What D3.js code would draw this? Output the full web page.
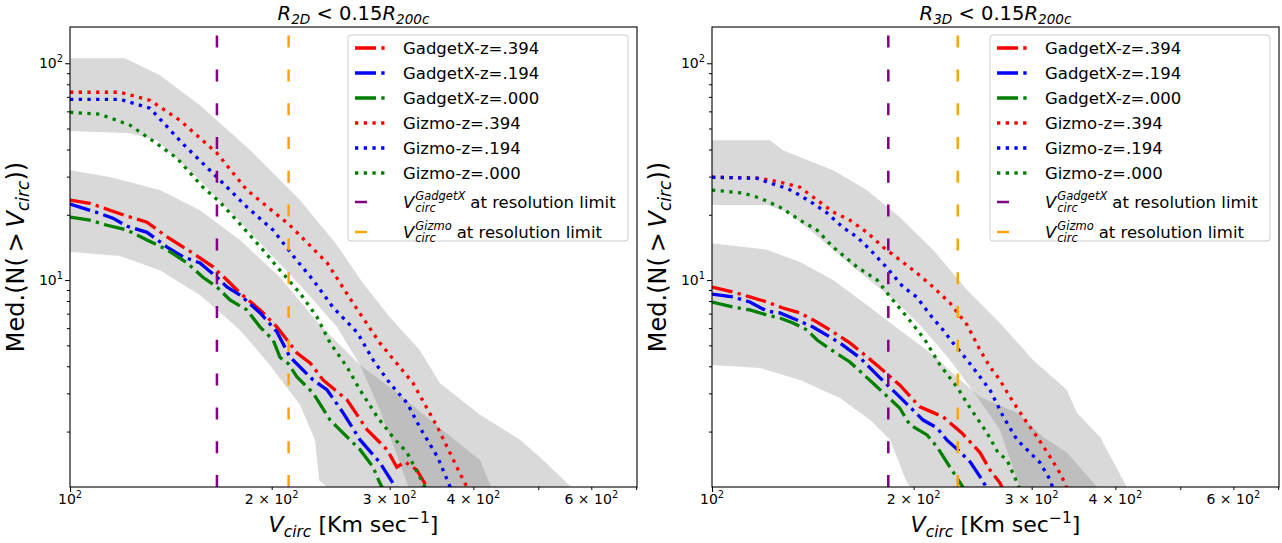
<!DOCTYPE html>
<html>
<head>
<meta charset="utf-8">
<script src="https://cdn.jsdelivr.net/npm/d3@7"></script>
<style>
  body { margin: 0; background: #fff; }
  svg { display: block; font-family: "DejaVu Sans", sans-serif; }
</style>
</head>
<body>
<svg id="chart" width="1282" height="543"></svg>
<script>
// ---- data: [V_circ, median N(>V_circ)] ----

// R_2D < 0.15 R_200c
const gx394_2D = [[100,23.4],[107.1,22.6],[114.7,21.0],[121.7,19.7],[130.3,18.5],[139.6,15.8],[152.6,13.3],[163.5,11.5],[171.5,10.0],[179.4,8.71],[192.2,7.28],[203.7,6.07],[218.2,4.61],[228.4,4.14],[238.6,3.46],[259.1,2.80],[277.6,2.04],[297.3,1.65],[307.5,1.37],[316.2,1.45],[329.3,1.33],[341,1.11],[345,1.05]]
const gx194_2D = [[100,22.4],[109.7,20.5],[115.9,19.3],[121.7,17.7],[130.3,16.6],[139.6,14.2],[147.5,12.8],[156.3,12.0],[165.7,10.3],[171.5,9.29],[179.4,8.53],[192.2,7.05],[203.7,5.76],[212.9,4.42],[230.6,3.46],[242,3.11],[255.7,2.44],[271,1.83],[290,1.44],[303.2,1.16],[310,1.05]]
const gx000_2D = [[100,19.5],[107.1,18.9],[113.6,17.9],[121.7,17.0],[130.3,15.3],[139.6,13.8],[149.5,12.0],[157.9,10.3],[165.7,9.29],[173.3,8.09],[183.7,7.28],[192.2,6.07],[201,5.29],[205.8,4.4],[212,4.1],[218.2,3.57],[230.6,3.01],[244.5,2.26],[259.1,1.89],[271,1.65],[283.4,1.37],[290,1.16],[295,1.05]]
const gz394_2D = [[100,73.5],[118.7,73.5],[131.6,67.5],[145.9,54.6],[165.7,38.5],[183.7,26.0],[212.9,17.9],[242,12.0],[264.5,7.83],[290,5.13],[325,3.35],[353.5,2.10],[386,1.20],[395,1.05]]
const gz194_2D = [[100,68.2],[118.7,68.2],[131.6,62.1],[147.5,42.4],[167.4,28.9],[183.7,21.7],[201,17.0],[215,13.0],[230.6,10.0],[246.8,7.5],[268.7,5.70],[283.4,4.28],[300,3.35],[318.5,2.71],[332.6,2.10],[353.5,1.53],[365.5,1.20],[372,1.05]]
const gz000_2D = [[100,59.4],[110.9,58.2],[122.9,51.8],[133.9,43.2],[144.4,36.5],[157.9,26.8],[167.4,22.9],[181.2,17.5],[194,13.8],[205.8,11.1],[220.4,8.71],[233.7,6.75],[244.5,5.13],[259.1,3.97],[271,3.11],[287.4,2.34],[303.2,1.89],[318.5,1.60],[336.2,1.16],[342,1.05]]

const gizmoBandTop_2D = [[100,105.5],[120.8,105.5],[136.2,88.1],[156.3,64.0],[185.8,39.7],[220.4,23.4],[250.3,14.5],[273.6,9.68],[300,6.75],[332.6,4.76],[356.4,3.35],[409.3,2.39],[469.8,1.83],[511.6,1.45],[559.6,1.11],[580,1.0]]
const gizmoBandBot_2D = [[100,48.7],[122.9,47.5],[134.8,44.2],[156.3,28.9],[185.8,16.6],[220.4,9.48],[250.3,6.07],[271,4.06],[290,2.52],[305.6,1.65],[320.1,1.11],[323,1.0]]
const gadgetBandTop_2D = [[100,32.1],[114.7,29.9],[136.2,26.0],[156.3,21.0],[179.4,15.3],[205.8,10.3],[236,6.21],[271,4.06],[310.9,2.95],[356.4,2.08],[409.3,1.48],[425.2,1.11],[428,1.0]]
const gadgetBandBot_2D = [[100,13.5],[118.7,12.9],[136.2,11.1],[156.3,8.53],[179.4,5.89],[198.7,4.06],[220.4,2.66],[232.1,1.83],[235.5,1.19],[242,1.11],[243,1.0]]

// R_3D < 0.15 R_200c
const gx394_3D = [[100,9.29],[107.5,8.81],[113.9,8.36],[120.8,7.92],[127.6,7.43],[135.3,7.05],[143.5,6.40],[151.6,5.76],[160.6,5.13],[169.1,4.51],[178.3,3.93],[190.6,3.28],[204.3,2.60],[221.2,2.34],[236,1.97],[251.2,1.60],[260,1.33],[269,1.16],[273,1.05]]
const gx194_3D = [[100,8.62],[107.5,8.36],[113.9,7.92],[120.8,7.19],[126.3,7.05],[133.9,6.54],[141.5,6.07],[150,5.46],[156.8,5.01],[166.4,4.37],[178.3,3.53],[190.6,2.89],[206.6,2.26],[216.7,2.08],[224.1,1.83],[234.7,1.61],[242.8,1.45],[251.2,1.24],[255.7,1.13],[258,1.05]]
const gx000_3D = [[100,7.92],[107.5,7.51],[113.9,7.28],[120.8,6.90],[126.3,6.68],[132.1,6.34],[138.6,5.89],[143.5,5.29],[148.5,4.91],[160.6,4.19],[175.1,3.28],[190.6,2.57],[197.4,2.15],[209.4,1.93],[216.7,1.70],[226.6,1.37],[236,1.13],[239,1.05]]
const gz394_3D = [[100,29.8],[117.9,29.5],[126.3,28.3],[135.3,26.8],[143.5,23.4],[151.6,20.6],[160.6,18.9],[170.3,16.6],[180,14.2],[190.6,12.4],[202,10.8],[213.8,9.29],[226.6,7.83],[240.3,6.21],[251.2,4.76],[260,3.97],[269,3.46],[278.4,2.89],[291.1,2.34],[305.6,1.89],[319.6,1.53],[330.5,1.29],[336.2,1.16],[340,1.05]]
const gz194_3D = [[100,29.8],[116.7,29.5],[122,28.0],[129.4,26.5],[135.3,24.6],[141.5,22.6],[148.5,20.4],[156.8,17.5],[164.6,15.8],[172.2,13.8],[182.4,11.4],[192.9,9.29],[202,8.36],[212.9,6.75],[221.2,5.89],[228.9,5.13],[240.3,4.28],[248.8,3.72],[260,3.11],[272.2,2.34],[285.4,1.83],[298.3,1.60],[308.6,1.44],[319.6,1.20],[324,1.05]]
const gz000_3D = [[100,26.0],[111.2,25.2],[117.9,23.9],[126.3,21.7],[135.3,18.9],[143.5,17.0],[151.6,14.2],[164.6,11.5],[176.4,10.0],[184.5,8.36],[195.5,6.75],[208,5.29],[218.9,4.06],[232.1,3.21],[242.8,2.57],[257.4,1.97],[267.2,1.60],[275.6,1.48],[285.4,1.16],[289,1.05]]

const gizmoBandTop_3D = [[100,44.2],[122,44.2],[127.6,39.7],[151.6,32.1],[170.3,26.0],[190.6,19.5],[213.8,13.8],[240.3,8.99],[269,6.34],[301.4,4.28],[338.6,3.11],[350.4,2.44],[379.5,1.89],[416,1.11],[420,1.0]]
const gizmoBandBot_3D = [[100,22.2],[120.8,22.2],[129.4,20.6],[140,17.0],[151.6,13.8],[162.4,11.5],[174,9.68],[190.6,7.67],[204.3,6.21],[226.6,4.28],[248.8,2.89],[269,2.04],[281.2,1.37],[288.1,1.11],[289,1.0]]
const gadgetBandTop_3D = [[100,14.8],[120.8,13.8],[135.3,12.1],[151.6,10.0],[170.3,7.67],[190.6,5.89],[213.8,4.51],[234.7,3.46],[251.2,2.89],[285.4,2.44],[312,1.89],[338.6,1.60],[375.6,1.11],[380,1.0]]
const gadgetBandBot_3D = [[100,4.06],[117.9,3.93],[135.3,3.46],[155.2,2.86],[172.2,2.26],[184.5,1.83],[194.8,1.19],[197.4,1.11],[198,1.0]]

// resolution limits (V_circ)
const vGadgetX = [165.7, 183.3]
const vGizmo = [212, 232.7]

const legendNames = ['GadgetX-z=.394', 'GadgetX-z=.194', 'GadgetX-z=.000', 'Gizmo-z=.394', 'Gizmo-z=.194', 'Gizmo-z=.000']
const xMajorTicks = [100]
const xMinorTicks = [200, 300, 400, 500, 600, 700]
const xLabelTicks = [100, 200, 300, 400, 600]
const yMajorTicks = [10, 100]
const yMinorTicks = [2, 3, 4, 5, 6, 7, 8, 9, 20, 30, 40, 50, 60, 70, 80, 90]
const yLabelTicks = [10, 100]

// ---- layout ----
const plotW = 567
const plotTop = 27
const plotBottom = 487

const styles = [
  { color: 'red', dash: 'dashdot' },
  { color: 'blue', dash: 'dashdot' },
  { color: 'green', dash: 'dashdot' },
  { color: 'red', dash: 'dot' },
  { color: 'blue', dash: 'dot' },
  { color: 'green', dash: 'dot' },
]
const lw = 3.3
const dashes = { dashdot: '21,5.3,3.3,5.3', dot: '3.3,5.4' }
const vDash = '12,21.8'
const vColors = ['purple', 'orange']

const panels = [
  {
    left: 70, sub: '2D',
    series: [gx394_2D, gx194_2D, gx000_2D, gz394_2D, gz194_2D, gz000_2D],
    bands: [[gizmoBandTop_2D, gizmoBandBot_2D], [gadgetBandTop_2D, gadgetBandBot_2D]],
    vlines: [vGadgetX[0], vGizmo[0]],
  },
  {
    left: 712, sub: '3D',
    series: [gx394_3D, gx194_3D, gx000_3D, gz394_3D, gz194_3D, gz000_3D],
    bands: [[gizmoBandTop_3D, gizmoBandBot_3D], [gadgetBandTop_3D, gadgetBandBot_3D]],
    vlines: [vGadgetX[1], vGizmo[1]],
  },
]

const svg = d3.select('#chart')

// "m × 10^e" tick text
function sciLabel(text, v) {
  const e = Math.floor(Math.log10(v) + 1e-9)
  const m = Math.round(v / Math.pow(10, e))
  if (m !== 1) text.append('tspan').text(m + ' × ')
  text.append('tspan').text('10')
  text.append('tspan').attr('dy', -6).attr('font-size', '70%').text(e)
}

// V with subscript circ
function vcirc(text, subSize, shift) {
  text.append('tspan').attr('font-style', 'italic').text('V')
  text.append('tspan').attr('font-style', 'italic').attr('font-size', subSize)
    .attr('dy', shift).text('circ')
  return text.append('tspan').attr('dy', -shift)
}

panels.forEach((p, pi) => {
  const x = d3.scaleLog().domain([100, 702]).range([p.left, p.left + plotW])
  const y = d3.scaleLog().domain([1.11, 147]).range([plotBottom, plotTop])
  const g = svg.append('g')

  const clipId = 'clip' + pi
  svg.append('clipPath').attr('id', clipId)
    .append('rect')
    .attr('x', p.left).attr('y', plotTop)
    .attr('width', plotW).attr('height', plotBottom - plotTop)

  const plot = g.append('g').attr('clip-path', `url(#${clipId})`)

  // shaded bands
  const line = d3.line().x(d => x(d[0])).y(d => y(d[1]))
  p.bands.forEach(([hi, lo]) => {
    plot.append('path')
      .attr('d', line(hi.concat(lo.slice().reverse())) + 'Z')
      .attr('fill', 'gray')
      .attr('fill-opacity', 0.3)
  })

  // median curves
  p.series.forEach((s, i) => {
    plot.append('path')
      .attr('d', line(s))
      .attr('fill', 'none')
      .attr('stroke', styles[i].color)
      .attr('stroke-width', lw)
      .attr('stroke-dasharray', dashes[styles[i].dash])
  })

  // resolution limits
  p.vlines.forEach((v, i) => {
    plot.append('line')
      .attr('x1', x(v)).attr('x2', x(v))
      .attr('y1', plotBottom).attr('y2', plotTop)
      .attr('stroke', vColors[i])
      .attr('stroke-width', 2.5)
      .attr('stroke-dasharray', vDash)
  })

  // axes
  const axX = g.append('g').attr('transform', `translate(0,${plotBottom})`)
  axX.call(d3.axisBottom(x).tickValues(xMajorTicks).tickSize(5).tickFormat(''))
  axX.append('g').call(d3.axisBottom(x).tickValues(xMinorTicks).tickSize(3).tickFormat(''))
  const axY = g.append('g').attr('transform', `translate(${p.left},0)`)
  axY.call(d3.axisLeft(y).tickValues(yMajorTicks).tickSize(5).tickFormat(''))
  axY.append('g').call(d3.axisLeft(y).tickValues(yMinorTicks).tickSize(3).tickFormat(''))
  g.selectAll('.domain').remove()
  g.selectAll('.tick line').attr('stroke', '#000').attr('stroke-width', 1)

  // frame
  g.append('rect')
    .attr('x', p.left).attr('y', plotTop)
    .attr('width', plotW).attr('height', plotBottom - plotTop)
    .attr('fill', 'none').attr('stroke', '#000').attr('stroke-width', 1.1)

  // tick labels
  xLabelTicks.forEach(v => {
    const t = g.append('text')
      .attr('x', x(v)).attr('y', 504)
      .attr('text-anchor', 'middle')
      .attr('font-size', 14)
    sciLabel(t, v)
  })
  yLabelTicks.forEach(v => {
    const t = g.append('text')
      .attr('x', p.left - 7).attr('y', y(v) + 5)
      .attr('text-anchor', 'end')
      .attr('font-size', 14)
    sciLabel(t, v)
  })

  // title
  const cx = p.left + plotW / 2
  const title = g.append('text')
    .attr('x', cx).attr('y', 20)
    .attr('text-anchor', 'middle')
    .attr('font-size', 19.5)
  title.append('tspan').attr('font-style', 'italic').text('R')
  title.append('tspan').attr('font-style', 'italic').attr('font-size', 13.6).attr('dy', 4).text(p.sub)
  title.append('tspan').attr('dy', -4).text(' < 0.15')
  title.append('tspan').attr('font-style', 'italic').text('R')
  title.append('tspan').attr('font-style', 'italic').attr('font-size', 13.6).attr('dy', 4).text('200c')

  // axis labels
  const xl = g.append('text')
    .attr('x', cx).attr('y', 532)
    .attr('text-anchor', 'middle')
    .attr('font-size', 22)
  const rest = vcirc(xl, 15.5, 5)
  rest.text(' [Km sec')
  xl.append('tspan').attr('font-size', 15.5).attr('dy', -9).text('−1')
  xl.append('tspan').attr('dy', 9).text(']')

  const yl = g.append('text')
    .attr('transform', `translate(${p.left - 46},${(plotTop + plotBottom) / 2}) rotate(-90)`)
    .attr('text-anchor', 'middle')
    .attr('font-size', 24)
  yl.append('tspan').text('Med.(N(\u2009>\u2009')
  const yr = vcirc(yl, 17, 5)
  yr.text('))')

  // legend
  const lx = p.left + 278
  const leg = g.append('g')
  leg.append('rect')
    .attr('x', lx).attr('y', 35)
    .attr('width', 280).attr('height', 206)
    .attr('rx', 3)
    .attr('fill', '#fff').attr('fill-opacity', 0.8)
    .attr('stroke', '#ccc').attr('stroke-width', 1)
  const rowY = [48, 73, 98, 123, 148, 173, 202, 232]
  legendNames.forEach((name, i) => {
    leg.append('line')
      .attr('x1', lx + 7).attr('x2', lx + 37)
      .attr('y1', rowY[i]).attr('y2', rowY[i])
      .attr('stroke', styles[i].color)
      .attr('stroke-width', lw)
      .attr('stroke-dasharray', dashes[styles[i].dash])
    leg.append('text')
      .attr('x', lx + 55).attr('y', rowY[i]).attr('dy', '0.35em')
      .attr('font-size', 16.5)
      .text(name)
  })
  ;['GadgetX', 'Gizmo'].forEach((code, k) => {
    const yc = rowY[6 + k]
    leg.append('line')
      .attr('x1', lx + 7).attr('x2', lx + 37)
      .attr('y1', yc).attr('y2', yc)
      .attr('stroke', vColors[k])
      .attr('stroke-width', 2.5)
      .attr('stroke-dasharray', vDash)
    const base = yc + 6
    const v = leg.append('text')
      .attr('x', lx + 55).attr('y', base)
      .attr('font-size', 16.5).attr('font-style', 'italic')
      .text('V')
    const sx = lx + 55 + v.node().getComputedTextLength() + 1
    const sup = leg.append('text')
      .attr('x', sx).attr('y', base - 8)
      .attr('font-size', 11.5).attr('font-style', 'italic')
      .text(code)
    const sub = leg.append('text')
      .attr('x', sx).attr('y', base + 4)
      .attr('font-size', 11.5).attr('font-style', 'italic')
      .text('circ')
    const w = Math.max(sup.node().getComputedTextLength(), sub.node().getComputedTextLength())
    leg.append('text')
      .attr('x', sx + w + 5).attr('y', base)
      .attr('font-size', 16.5)
      .text('at resolution limit')
  })
})
</script>
</body>
</html>
